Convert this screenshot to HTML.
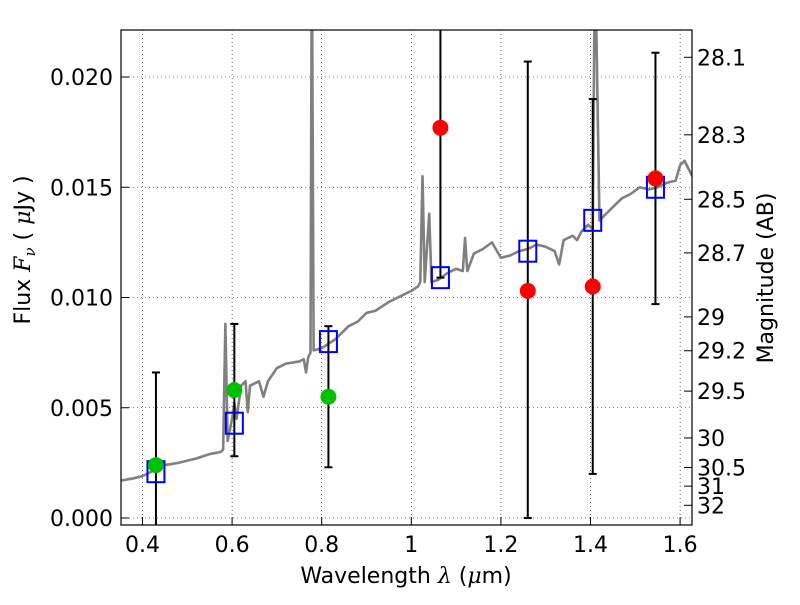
<!DOCTYPE html>
<html><head><meta charset="utf-8"><style>
body{margin:0;background:#fff;}
svg text{font-family:"DejaVu Sans","Liberation Sans",sans-serif;}
</style></head><body>
<svg id="chart" width="800" height="600" xmlns="http://www.w3.org/2000/svg">
<defs><clipPath id="clip"><rect x="121" y="30" width="571" height="495"/></clipPath></defs>
<g id="grid"></g>
<g id="plot" clip-path="url(#clip)"></g>
<rect x="121" y="30" width="571" height="495" fill="none" stroke="#000" stroke-width="1.2"/>
<g id="axes"></g>
<text x="406" y="583" font-size="22" text-anchor="middle">Wavelength  <tspan font-style="italic" font-family="DejaVu Serif, serif">λ</tspan> (<tspan font-style="italic" font-family="DejaVu Serif, serif">μ</tspan>m)</text>
<text transform="translate(30,250) rotate(-90)" font-size="22" text-anchor="middle">Flux  <tspan font-style="italic" font-family="DejaVu Serif, serif">F</tspan><tspan font-style="italic" font-size="15" dy="5" font-family="DejaVu Serif, serif">ν</tspan><tspan dy="-5">  ( </tspan><tspan font-style="italic" font-family="DejaVu Serif, serif">μ</tspan>Jy )</text>
<text transform="translate(773,278) rotate(-90)" font-size="22" text-anchor="middle">Magnitude (AB)</text>
</svg>
<script>
const xTicks=[0.4,0.6,0.8,1.0,1.2,1.4,1.6];
const xTickLabels=["0.4","0.6","0.8","1","1.2","1.4","1.6"];
const yTicks=[0,0.005,0.010,0.015,0.020];
const yTickLabels=["0.000","0.005","0.010","0.015","0.020"];
const magTicks=[28.1,28.3,28.5,28.7,29,29.2,29.5,30,30.5,31,32];
const magLabels=["28.1","28.3","28.5","28.7","29","29.2","29.5","30","30.5","31","32"];
const specWave=[0.353,0.38,0.4,0.43,0.45,0.48,0.5,0.52,0.55,0.575,0.58,0.585,0.59,0.6,0.605,0.61,0.62,0.63,0.635,0.64,0.66,0.67,0.68,0.7,0.72,0.75,0.76,0.765,0.77,0.775,0.778,0.782,0.8,0.83,0.86,0.88,0.9,0.92,0.95,0.98,1.0,1.015,1.02,1.025,1.03,1.04,1.045,1.06,1.08,1.1,1.115,1.12,1.125,1.14,1.16,1.18,1.2,1.22,1.24,1.26,1.28,1.3,1.32,1.33,1.34,1.36,1.37,1.38,1.395,1.405,1.41,1.42,1.43,1.45,1.47,1.49,1.51,1.53,1.55,1.57,1.59,1.6,1.61,1.627];
const specFlux=[0.0017,0.0018,0.0019,0.0022,0.0024,0.0025,0.0026,0.0027,0.0029,0.0030,0.0031,0.0088,0.0035,0.0045,0.0052,0.0045,0.0060,0.0062,0.0048,0.0060,0.0062,0.0055,0.0062,0.0068,0.0070,0.0071,0.0072,0.0066,0.0073,0.0075,0.026,0.0076,0.0077,0.0081,0.0087,0.0089,0.0093,0.0094,0.0098,0.0101,0.0103,0.0105,0.0107,0.0155,0.0107,0.0138,0.0107,0.0108,0.0111,0.0113,0.0112,0.0127,0.0112,0.0120,0.0122,0.0125,0.0118,0.0119,0.0121,0.0122,0.0124,0.0123,0.0121,0.0115,0.0126,0.0128,0.0126,0.0130,0.0133,0.0131,0.026,0.0135,0.0137,0.0141,0.0145,0.0147,0.0150,0.0149,0.0150,0.0152,0.0153,0.0160,0.0162,0.0155];
const modelWave=[0.43,0.605,0.815,1.065,1.26,1.405,1.545];
const modelFlux=[0.0021,0.0043,0.0080,0.0109,0.0121,0.0135,0.0150];
const errWave=[0.43,0.605,0.815,1.065,1.26,1.405,1.545];
const errLow=[-0.002,0.0028,0.0023,0.0109,0.0,0.0020,0.0097];
const errHigh=[0.0066,0.0088,0.0087,0.04,0.0207,0.0190,0.0211];
const greenWave=[0.43,0.605,0.815];
const greenFlux=[0.0024,0.0058,0.0055];
const redWave=[1.065,1.26,1.405,1.545];
const redFlux=[0.0177,0.0103,0.0105,0.0154];

const NS="http://www.w3.org/2000/svg";
const X=w=>142.5+(w-0.4)*448;
const Y=f=>518-f*22050;
const magToFlux=m=>Math.pow(10,(23.9-m)/2.5);
function mk(tag,attrs,parent){const e=document.createElementNS(NS,tag);for(const k in attrs)e.setAttribute(k,attrs[k]);parent.appendChild(e);return e;}
const grid=document.getElementById('grid'),plot=document.getElementById('plot'),axes=document.getElementById('axes');
xTicks.forEach((t,i)=>{
  const g=mk('line',{x1:X(t),x2:X(t),y1:30,y2:525,stroke:'#000','stroke-width':0.6,'stroke-dasharray':'1,3'},grid);
  
  
  const tk=mk('line',{x1:X(t),x2:X(t),y1:525,y2:517,stroke:'#000','stroke-width':1},axes);
  
  
  const tx=mk('text',{x:X(t),y:552,'font-size':22,'text-anchor':'middle'},axes);
  tx.textContent=xTickLabels[i];
  
  
});
yTicks.forEach((t,i)=>{
  const g=mk('line',{x1:121,x2:692,y1:Y(t),y2:Y(t),stroke:'#000','stroke-width':0.6,'stroke-dasharray':'1,3'},grid);
  
  
  const tk=mk('line',{x1:121,x2:129,y1:Y(t),y2:Y(t),stroke:'#000','stroke-width':1},axes);
  
  
  const tx=mk('text',{x:113,y:Y(t)+8,'font-size':22,'text-anchor':'end'},axes);
  tx.textContent=yTickLabels[i];
  
  
});
magTicks.forEach((m,i)=>{
  const y=Y(magToFlux(m));
  const tk=mk('line',{x1:684,x2:692,y1:y,y2:y,stroke:'#000','stroke-width':1},axes);
  
  
  const tx=mk('text',{x:697,y:y+8,'font-size':22},axes);
  tx.textContent=magLabels[i];
  
  
});
const sp=mk('polyline',{points:specWave.map((w,i)=>X(w)+','+Y(specFlux[i])).join(' '),fill:'none',stroke:'#808080','stroke-width':2.6,'stroke-linejoin':'round'},plot);


errWave.forEach((w,i)=>{
  const g=mk('g',{},plot);
  
  
  const x=X(w);
  mk('line',{x1:x,x2:x,y1:Y(errLow[i]),y2:Y(errHigh[i]),stroke:'#000','stroke-width':2},g);
  [errLow[i],errHigh[i]].forEach(v=>mk('line',{x1:x-4,x2:x+4,y1:Y(v),y2:Y(v),stroke:'#000','stroke-width':2},g));
});
modelWave.forEach((w,i)=>{
  const r=mk('rect',{x:X(w)-8.5,y:Y(modelFlux[i])-10.5,width:17,height:21,fill:'none',stroke:'#0000ff','stroke-width':2},plot);
  
  
});
greenWave.forEach((w,i)=>{
  const c=mk('circle',{cx:X(w),cy:Y(greenFlux[i]),r:8,fill:'#00c000'},plot);
  
  
});
redWave.forEach((w,i)=>{
  const c=mk('circle',{cx:X(w),cy:Y(redFlux[i]),r:8,fill:'#ff0000'},plot);
  
  
});
</script>
</body></html>
